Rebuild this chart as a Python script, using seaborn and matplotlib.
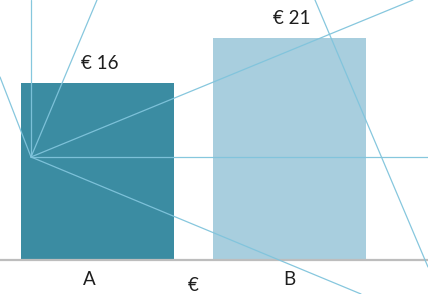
import matplotlib
matplotlib.use("Agg")
import matplotlib.pyplot as plt
from matplotlib.lines import Line2D
import seaborn as sns
import pandas as pd

categories = ["A", "B"]
values = [16.4, 20.6]
value_labels = ["€ 16", "€ 21"]
bar_colors = ["#3b8ca2", "#a8cede"]
axis_label = "€"

sns.set_theme(style="white")
plt.rcParams["font.family"] = ["Lato", "DejaVu Sans"]

W, H = 428, 294
fig = plt.figure(figsize=(W / 100, H / 100), dpi=100)
ax = fig.add_axes([0, 34 / H, 1, 260 / H])

df = pd.DataFrame({"cat": categories, "val": values})
sns.barplot(data=df, x="cat", y="val", hue="cat", palette=bar_colors,
            width=0.8, linewidth=0, legend=False, ax=ax, saturation=1)

ax.set_xlim(-0.507, 1.722)
ax.set_ylim(0, 24.14)
for s in ["top", "right", "left"]:
    ax.spines[s].set_visible(False)
ax.spines["bottom"].set_color("#bdbdbd")
ax.spines["bottom"].set_linewidth(1.6)
ax.set_yticks([])
ax.set_xlabel("")
ax.set_ylabel("")
ax.set_xticks(range(len(categories)))
ax.set_xticklabels([])
ax.tick_params(axis="x", length=0)

FS = 13.5
TXT = "#1e1e1e"
# category labels
cat_dx = [-8, 0]
for i, (c, dx) in enumerate(zip(categories, cat_dx)):
    ax.annotate(c, (i, 0), xytext=(dx, -25), textcoords="offset pixels",
                ha="center", va="baseline", fontsize=FS, color=TXT,
                annotation_clip=False)

# value labels
for i, (v, lab) in enumerate(zip(values, value_labels)):
    ax.annotate(lab, (i, v), xytext=(2, 14.5), textcoords="offset pixels",
                ha="center", va="baseline", fontsize=FS, color=TXT)

ax.annotate(axis_label, (0.5, 0), xytext=(0, -31), textcoords="offset pixels",
            ha="center", va="baseline", fontsize=FS, color=TXT,
            annotation_clip=False)

# decorative thin lines (pixel coords, y from top)
deco = [
    ((31, 157), (31, 0)),
    ((31, 157), (428, 157)),
    ((31, 157), (97, 0)),
    ((31, 157), (0, 77)),
    ((31, 157), (413, 0)),
    ((31, 157), (361, 294)),
    ((315, 0), (428, 267)),
]
for (x0, y0), (x1, y1) in deco:
    fig.add_artist(Line2D([x0 / W, x1 / W], [1 - y0 / H, 1 - y1 / H],
                          transform=fig.transFigure, color="#80c4dc",
                          lw=0.9, alpha=0.95, zorder=5))

fig.savefig("out.png", dpi=100)
